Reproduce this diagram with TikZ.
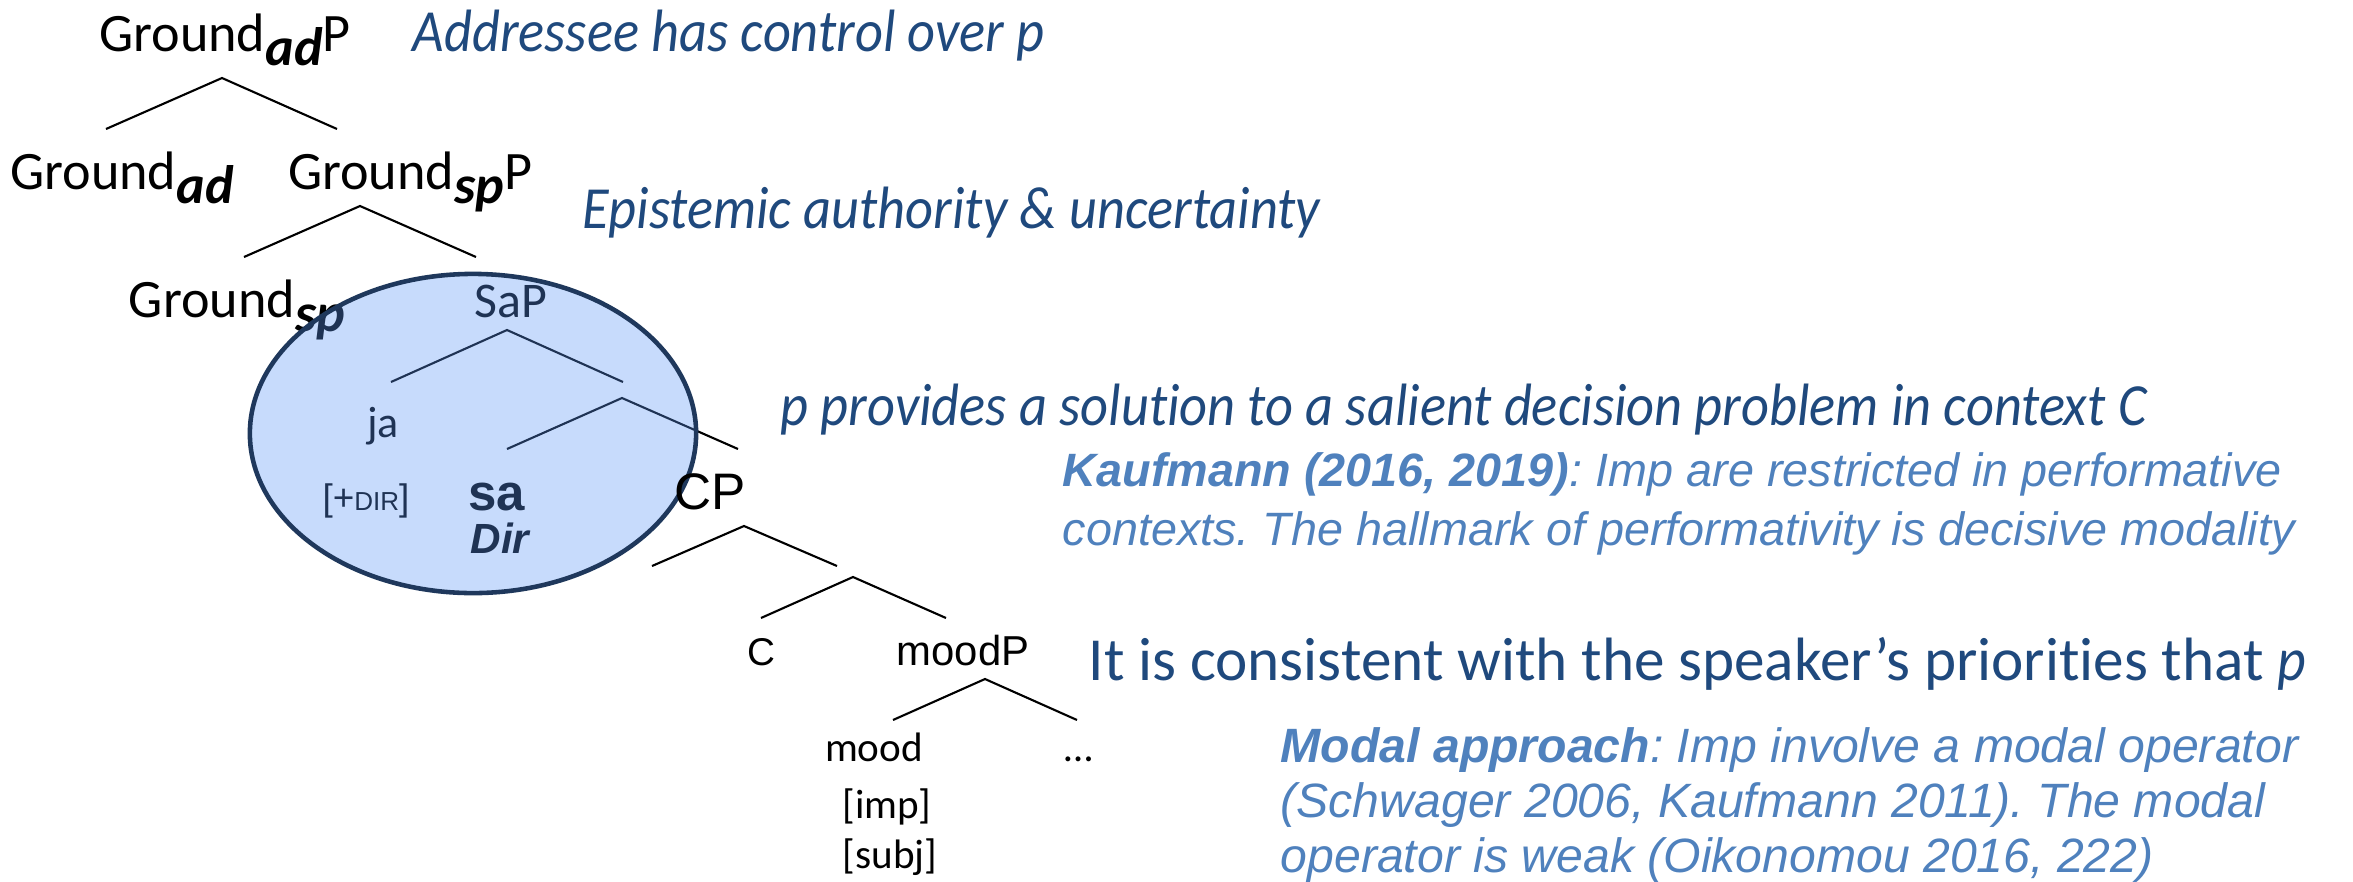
\documentclass[tikz,border=0pt]{standalone}
\usepackage{fontspec}
\setmainfont{Carlito}[Ligatures={NoCommon}]
\newfontfamily\arialfont{Liberation Sans}
\newfontfamily\claimfont[FakeStretch=0.91,Ligatures={NoCommon}]{Carlito}
\usetikzlibrary{shapes.geometric}
\definecolor{claimnavy}{RGB}{31,73,125}
\definecolor{citeblue}{RGB}{79,129,189}
\definecolor{ringfill}{RGB}{91,150,247}
\definecolor{ringedge}{RGB}{31,56,92}
\newcommand\lsub[1]{\raisebox{-4.1pt}{\bfseries\itshape #1}}
\frenchspacing

\begin{document}
\begin{tikzpicture}[
        x=0.01cm, y=-0.01cm,
        every node/.style={inner sep=0pt},
        cat/.style={anchor=base, font=\fontsize{15.4pt}{18pt}\selectfont},
        lex/.style={anchor=base, font=\fontsize{11.7pt}{14pt}\selectfont},
        arl/.style={anchor=base, font=\arialfont\fontsize{11.5pt}{14pt}\selectfont},
        claim/.style={anchor=base west, text=claimnavy, font=\claimfont\itshape\fontsize{17pt}{20pt}\selectfont},
        cite/.style={anchor=base west, align=left, text=citeblue, font=\arialfont\itshape\fontsize{13.3pt}{16.5pt}\selectfont},
        branch/.style={line width=0.6pt},
        ring/.style={ellipse, draw=ringedge, line width=1.3pt, fill=ringfill, fill opacity=0.34, minimum width=4.46cm, minimum height=3.19cm}
    ]
    \useasboundingbox (0,0) rectangle (2353,881);

    % tree labels
    \node[cat] (GadP) at (225,51) {Ground\lsub{ad}P};
    \node[cat] (Gad) at (122,189) {Ground\lsub{ad}};
    \node[cat] (GspP) at (410,189) {Ground\lsub{sp}P};
    \node[cat] (Gsp) at (237,317) {Ground\lsub{sp}};
    \node[cat, font=\fontsize{14.2pt}{17pt}\selectfont] (SaP) at (511,317) {SaP};
    \node[lex, font=\fontsize{12.5pt}{15pt}\selectfont] (ja) at (383,437) {ja};
    \node[arl, font=\arialfont\fontsize{10.5pt}{12pt}\selectfont] (feat) at (366,510) {[+{\fontsize{7.4pt}{9pt}\selectfont DIR}]};
    \node[arl, font=\arialfont\bfseries\fontsize{14.5pt}{17pt}\selectfont] (sa) at (497,510) {sa};
    \node[arl, font=\arialfont\bfseries\itshape\fontsize{12pt}{14pt}\selectfont] (Dir) at (500,553) {Dir};
    \node[arl, font=\arialfont\fontsize{11pt}{13pt}\selectfont] (C) at (761,665) {C};
    \node[arl, font=\arialfont\fontsize{11.9pt}{14pt}\selectfont] (moodP) at (963,665) {moodP};
    \node[lex] (mood) at (874,761) {mood};
    \node[lex] (imp) at (887,818) {[imp]};
    \node[lex] (subj) at (890,868) {[subj]};
    \node[lex] (etc) at (1079,761) {\ldots};

    % branches: apex / left end / right end
    \foreach \k/\ax/\ay/\lx/\rx/\ey in {1/222/78/106/337/129, 2/360/206/244/476/257,
            3/507/330/391/623/382, 4/622/398/507/738/449, 5/744/526/652/837/566,
            6/853/577/761/946/618, 7/985/679/893/1077/720} {
        \coordinate (k\k) at (\ax,\ay);
        \coordinate (k\k l) at (\lx,\ey);
        \coordinate (k\k r) at (\rx,\ey);
        \draw[branch] (k\k l) -- (k\k) -- (k\k r);
    }

    \node[ring] (scope) at (473,433.5) {};
    \node[arl, font=\arialfont\fontsize{14.6pt}{17pt}\selectfont] (CP) at (710,509) {CP};

    % glosses
    \node[claim] (ctl) at (412,51) {Addressee has control over p};
    \node[claim] (epi) at (582,228) {Epistemic authority \& uncertainty};
    \node[claim] (sol) at (780,425) {p provides a solution to a salient decision problem in context C};
    \node[cite] (kauf) at (1062,545) {\textbf{Kaufmann (2016, 2019)}: Imp are restricted in performative\\contexts. The hallmark of performativity is decisive modality};
    \node[claim, font=\fontsize{17.4pt}{20pt}\selectfont] (prio) at (1088,680) {It is consistent with the speaker’s priorities that {\claimfont\itshape p}};
    \node[cite, font=\arialfont\itshape\fontsize{13.7pt}{15.6pt}\selectfont] (modal) at (1280,872) {\textbf{Modal approach}: Imp involve a modal operator\\(Schwager 2006, Kaufmann 2011). The modal\\operator is weak (Oikonomou 2016, 222)};
\end{tikzpicture}
\end{document}
